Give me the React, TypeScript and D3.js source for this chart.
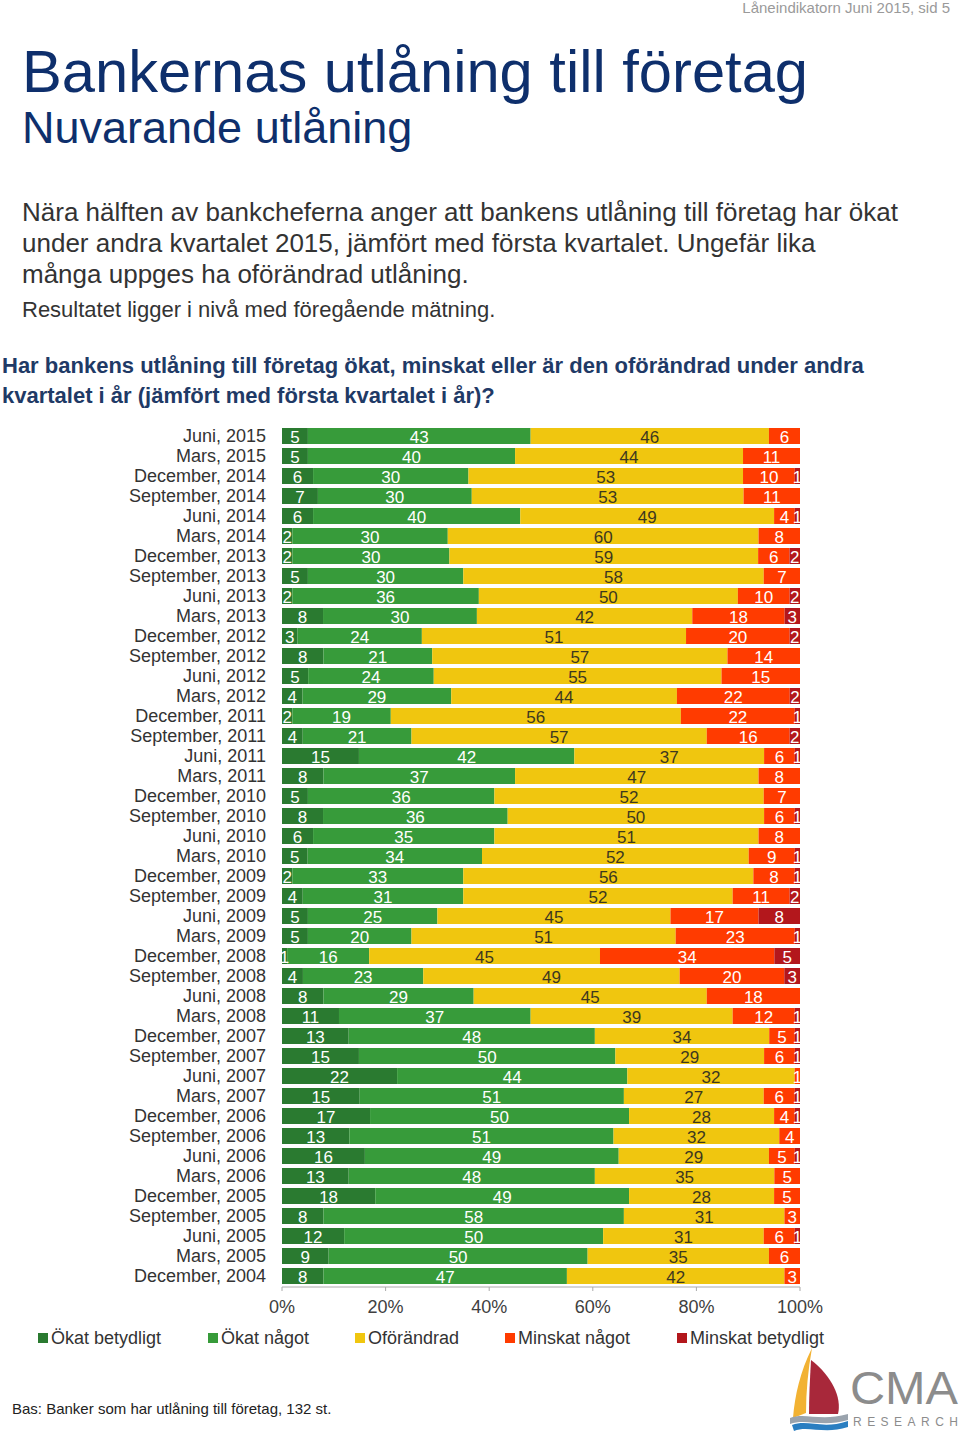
import React from "react";
import * as d3 from "d3";

const periods = ["Juni, 2015","Mars, 2015","December, 2014","September, 2014","Juni, 2014","Mars, 2014","December, 2013","September, 2013","Juni, 2013","Mars, 2013","December, 2012","September, 2012","Juni, 2012","Mars, 2012","December, 2011","September, 2011","Juni, 2011","Mars, 2011","December, 2010","September, 2010","Juni, 2010","Mars, 2010","December, 2009","September, 2009","Juni, 2009","Mars, 2009","December, 2008","September, 2008","Juni, 2008","Mars, 2008","December, 2007","September, 2007","Juni, 2007","Mars, 2007","December, 2006","September, 2006","Juni, 2006","Mars, 2006","December, 2005","September, 2005","Juni, 2005","Mars, 2005","December, 2004"];

const okatBetydligt = [5,5,6,7,6,2,2,5,2,8,3,8,5,4,2,4,15,8,5,8,6,5,2,4,5,5,1,4,8,11,13,15,22,15,17,13,16,13,18,8,12,9,8];
const okatNagot = [43,40,30,30,40,30,30,30,36,30,24,21,24,29,19,21,42,37,36,36,35,34,33,31,25,20,16,23,29,37,48,50,44,51,50,51,49,48,49,58,50,50,47];
const oforandrad = [46,44,53,53,49,60,59,58,50,42,51,57,55,44,56,57,37,47,52,50,51,52,56,52,45,51,45,49,45,39,34,29,32,27,28,32,29,35,28,31,31,35,42];
const minskatNagot = [6,11,10,11,4,8,6,7,10,18,20,14,15,22,22,16,6,8,7,6,8,9,8,11,17,23,34,20,18,12,5,6,1,6,4,4,5,5,5,3,6,6,3];
const minskatBetydligt = [0,0,1,0,1,0,2,0,2,3,2,0,0,2,1,2,1,0,0,1,0,1,1,2,8,1,5,3,0,1,1,1,0,1,1,0,1,0,0,0,1,0,0];

const seriesNames = ["Ökat betydligt","Ökat något","Oförändrad","Minskat något","Minskat betydligt"];
const seriesColors = ["#2a7a30","#379b3a","#f0c60f","#ff3b00","#b3171c"];
const labelColors = ["#ffffff","#ffffff","#3d3820","#ffffff","#ffffff"];
const tickValues = [0, 0.2, 0.4, 0.6, 0.8, 1];

const FONT = "'Liberation Sans', Arial, Helvetica, sans-serif";

export default function App() {
  const keys = ["k0","k1","k2","k3","k4"];
  const arrays = [okatBetydligt, okatNagot, oforandrad, minskatNagot, minskatBetydligt];
  const rows = periods.map((p, i) => {
    const r: any = { period: p };
    keys.forEach((k, j) => (r[k] = arrays[j][i]));
    return r;
  });
  const stack = d3.stack().keys(keys).offset(d3.stackOffsetExpand);
  const stacked = stack(rows);

  const x = d3.scaleLinear().domain([0, 1]).range([282, 800]);
  const y = d3.scaleBand().domain(periods).range([426, 1286]).paddingInner(0.2).paddingOuter(0.1);
  const bw = y.bandwidth();

  const legendX = [38, 208, 355, 505, 677];

  return (
    <svg width={960} height={1431} style={{ position: "absolute", left: 0, top: 0, background: "#fff" }} fontFamily={FONT}>
      <defs>
        <clipPath id="plotClip">
          <rect x={282} y={420} width={518} height={870} />
        </clipPath>
      </defs>
      <rect x={0} y={0} width={960} height={1431} fill="#fff" />
      <text x={950} y={13} textAnchor="end" fontSize={15} fill="#9a9a9a">Låneindikatorn Juni 2015, sid 5</text>
      <text x={22} y={92} fontSize={60} fill="#0e2f6c" textLength={786} lengthAdjust="spacingAndGlyphs">Bankernas utlåning till företag</text>
      <text x={22} y={143} fontSize={45} fill="#0e2f6c">Nuvarande utlåning</text>
      <text x={22} y={221} fontSize={26} fill="#333">Nära hälften av bankcheferna anger att bankens utlåning till företag har ökat</text>
      <text x={22} y={252} fontSize={26} fill="#333">under andra kvartalet 2015, jämfört med första kvartalet. Ungefär lika</text>
      <text x={22} y={283} fontSize={26} fill="#333">många uppges ha oförändrad utlåning.</text>
      <text x={22} y={317} fontSize={22} fill="#333">Resultatet ligger i nivå med föregående mätning.</text>
      <text x={2} y={373} fontSize={22} fontWeight="bold" fill="#1f3a66">Har bankens utlåning till företag ökat, minskat eller är den oförändrad under andra</text>
      <text x={2} y={403} fontSize={22} fontWeight="bold" fill="#1f3a66">kvartalet i år (jämfört med första kvartalet i år)?</text>

      {periods.map((p) => (
        <text key={p} x={266} y={(y(p) as number) + bw / 2 + 6} textAnchor="end" fontSize={18} fill="#333">{p}</text>
      ))}

      <g>
        {stacked.map((s, j) => (
          <g key={j} fill={seriesColors[j]}>
            {s.map((d: any, i: number) => (
              <rect key={i} x={x(d[0])} y={y(d.data.period)} width={Math.max(0, x(d[1]) - x(d[0]))} height={bw} />
            ))}
          </g>
        ))}
      </g>
      <g clipPath="url(#plotClip)">
        {stacked.map((s, j) => (
          <g key={j} fill={labelColors[j]} fontSize={17} textAnchor="middle">
            {s.map((d: any, i: number) => {
              const v = arrays[j][i];
              if (!v) return null;
              return (
                <text key={i} x={(x(d[0]) + x(d[1])) / 2} y={(y(d.data.period) as number) + bw / 2 + 7}>{v}</text>
              );
            })}
          </g>
        ))}
      </g>

      <line x1={282} x2={800} y1={1287} y2={1287} stroke="#aaa" />
      {tickValues.map((t) => (
        <g key={t}>
          <line x1={x(t)} x2={x(t)} y1={1287} y2={1291} stroke="#aaa" />
          <text x={x(t)} y={1313} textAnchor="middle" fontSize={18} fill="#404040">{d3.format(".0%")(t)}</text>
        </g>
      ))}

      {seriesNames.map((n, j) => (
        <g key={n}>
          <rect x={legendX[j]} y={1333} width={10} height={10} fill={seriesColors[j]} />
          <text x={legendX[j] + 13} y={1344} fontSize={18} fill="#333">{n}</text>
        </g>
      ))}

      <text x={12} y={1414} fontSize={15} fill="#222">Bas: Banker som har utlåning till företag, 132 st.</text>

      <g>
        <path d="M812,1348 C800,1372 795,1395 793,1418 L806,1413 C806,1392 808,1370 812,1348 Z" fill="#f2b233" />
        <path d="M811,1360 C832,1376 842,1398 838,1414 L809,1414 C809,1396 810,1378 811,1360 Z" fill="#a8283a" />
        <path d="M790,1418 C805,1412 820,1422 848,1414 L848,1420 C822,1428 806,1418 790,1424 Z" fill="#9aa3ad" />
        <path d="M792,1425 C808,1419 822,1430 848,1421 L848,1427 C824,1435 808,1425 794,1431 Z" fill="#2a7ec1" />
        <text x={850} y={1404} fontSize={47} fill="#8c8c8c" textLength={108} lengthAdjust="spacingAndGlyphs">CMA</text>
        <text x={853} y={1426} fontSize={12} fill="#8c8c8c" textLength={105} lengthAdjust="spacing">RESEARCH</text>
      </g>
    </svg>
  );
}
